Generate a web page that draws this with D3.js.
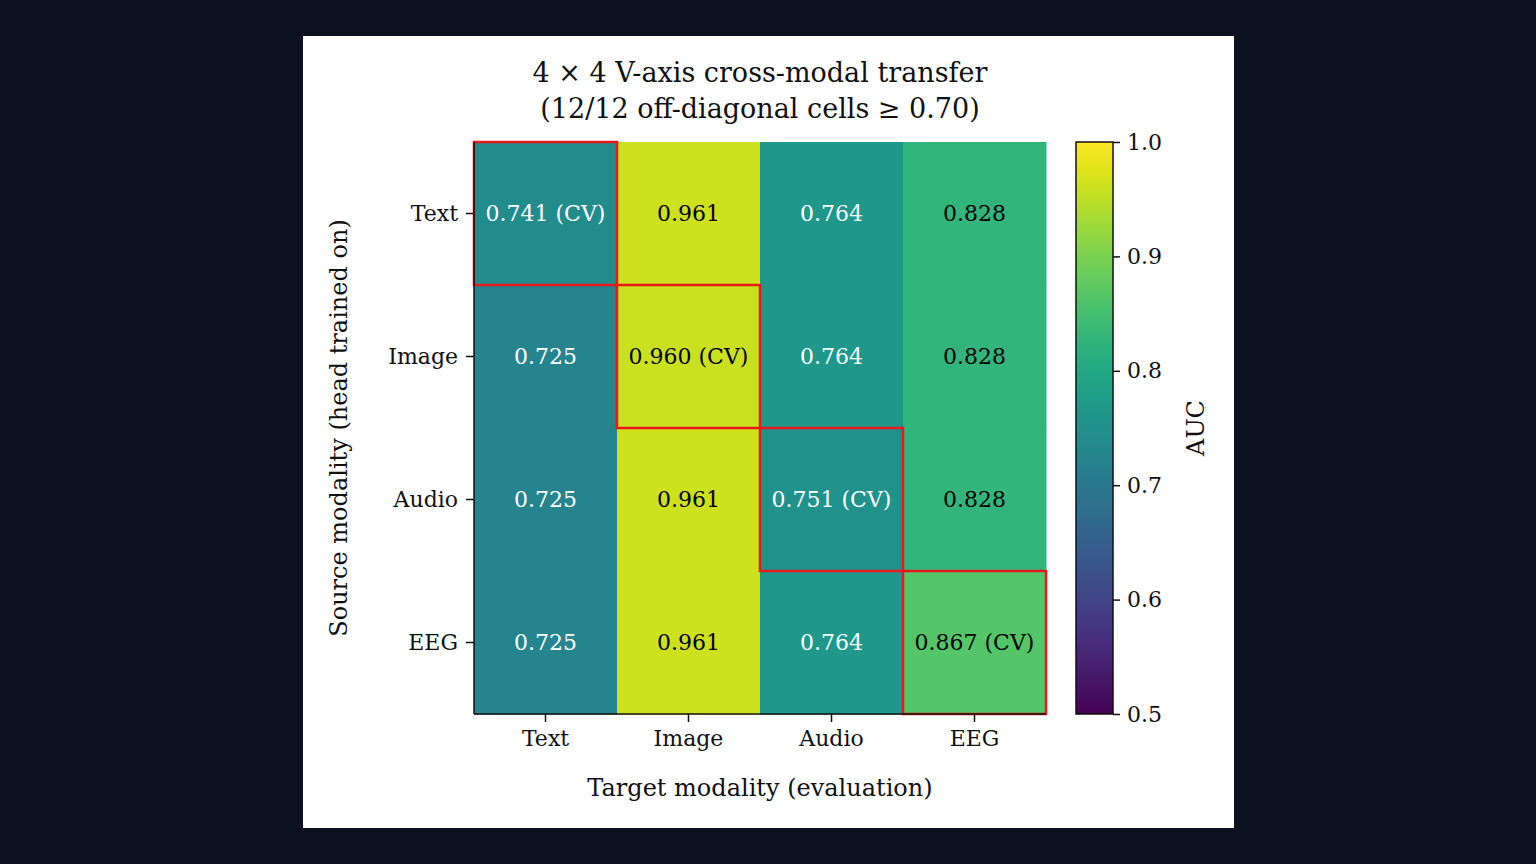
<!DOCTYPE html>
<html><head><meta charset="utf-8">
<script src="https://cdn.jsdelivr.net/npm/d3@7"></script>
<style>
body{margin:0;background:#0b1120;}
text{font-family:"DejaVu Serif",serif;fill:#111;}
</style></head>
<body>
<svg id="chart" width="1536" height="864"></svg>
<script>
const sources = ["Text", "Image", "Audio", "EEG"];
const targets = ["Text", "Image", "Audio", "EEG"];
const auc = [
  [0.741, 0.961, 0.764, 0.828],
  [0.725, 0.960, 0.764, 0.828],
  [0.725, 0.961, 0.751, 0.828],
  [0.725, 0.961, 0.764, 0.867]
];
const cbTicks = [0.5, 0.6, 0.7, 0.8, 0.9, 1.0];

const svg = d3.select("#chart");
svg.append("rect").attr("x", 303).attr("y", 36).attr("width", 931).attr("height", 792).attr("fill", "#fff");

const x = d3.scaleBand().domain(targets).range([474, 1046]);
const y = d3.scaleBand().domain(sources).range([142, 714]);
const color = d3.scaleSequential(d3.interpolateViridis).domain([0.5, 1.0]);

const cells = [];
auc.forEach((row, i) => row.forEach((v, j) => cells.push({s: sources[i], t: targets[j], v, diag: i === j})));

svg.selectAll("rect.cell").data(cells).join("rect")
  .attr("x", d => x(d.t)).attr("y", d => y(d.s))
  .attr("width", x.bandwidth() + 0.5).attr("height", y.bandwidth() + 0.5)
  .attr("fill", d => color(d.v));

svg.selectAll("text.val").data(cells).join("text")
  .attr("x", d => x(d.t) + x.bandwidth() / 2).attr("y", d => y(d.s) + y.bandwidth() / 2)
  .attr("text-anchor", "middle").attr("dominant-baseline", "central")
  .style("font-size", "22px")
  .style("fill", d => d.v < 0.8 ? "#fff" : "#000")
  .text(d => d.v.toFixed(3) + (d.diag ? " (CV)" : ""));

svg.selectAll("rect.diag").data(cells.filter(d => d.diag)).join("rect")
  .attr("x", d => x(d.t)).attr("y", d => y(d.s))
  .attr("width", x.bandwidth()).attr("height", y.bandwidth())
  .attr("fill", "none").attr("stroke", "#e8191a").attr("stroke-width", 2.5);

// axes
const xAxis = svg.append("g").attr("transform", "translate(0,714)")
  .call(d3.axisBottom(x).tickSize(8).tickPadding(8));
const yAxis = svg.append("g").attr("transform", "translate(474,0)")
  .call(d3.axisLeft(y).tickSize(8).tickPadding(8));
[xAxis, yAxis].forEach(a => {
  a.selectAll("text").style("font-size", "22px").style("font-family", "DejaVu Serif").attr("fill", "#111");
  a.selectAll("line,path").attr("stroke", "#111").attr("stroke-width", 1.5);
});
xAxis.select(".domain").attr("d", "M474,0H1046");
yAxis.select(".domain").attr("d", "M0,142V714");

// colorbar
const cb = d3.scaleLinear().domain([0.5, 1.0]).range([714, 142]);
const defs = svg.append("defs");
const grad = defs.append("linearGradient").attr("id", "vir").attr("x1", 0).attr("y1", 1).attr("x2", 0).attr("y2", 0);
d3.range(0, 1.01, 0.05).forEach(t => grad.append("stop").attr("offset", t).attr("stop-color", d3.interpolateViridis(t)));
svg.append("rect").attr("x", 1076).attr("y", 142).attr("width", 37).attr("height", 572)
  .attr("fill", "url(#vir)").attr("stroke", "#111").attr("stroke-width", 1.5);
const cbAxis = svg.append("g").attr("transform", "translate(1113,0)")
  .call(d3.axisRight(cb).tickValues(cbTicks).tickFormat(d3.format(".1f")).tickSize(7).tickPadding(7));
cbAxis.select(".domain").remove();
cbAxis.selectAll("text").style("font-size", "22px").style("font-family", "DejaVu Serif").attr("fill", "#111");
cbAxis.selectAll("line").attr("stroke", "#111").attr("stroke-width", 1.5);

// labels
svg.append("text").attr("x", 760).attr("y", 82).attr("text-anchor", "middle").style("font-size", "27px")
  .text("4 × 4 V-axis cross-modal transfer");
svg.append("text").attr("x", 760).attr("y", 118).attr("text-anchor", "middle").style("font-size", "27px")
  .text("(12/12 off-diagonal cells  ≥ 0.70)");
svg.append("text").attr("x", 760).attr("y", 796).attr("text-anchor", "middle").style("font-size", "24px")
  .text("Target modality (evaluation)");
svg.append("text").attr("transform", "translate(347,428) rotate(-90)").attr("text-anchor", "middle").style("font-size", "24px")
  .text("Source modality (head trained on)");
svg.append("text").attr("transform", "translate(1204,428) rotate(-90)").attr("text-anchor", "middle").style("font-size", "24px")
  .text("AUC");
</script>
</body></html>
